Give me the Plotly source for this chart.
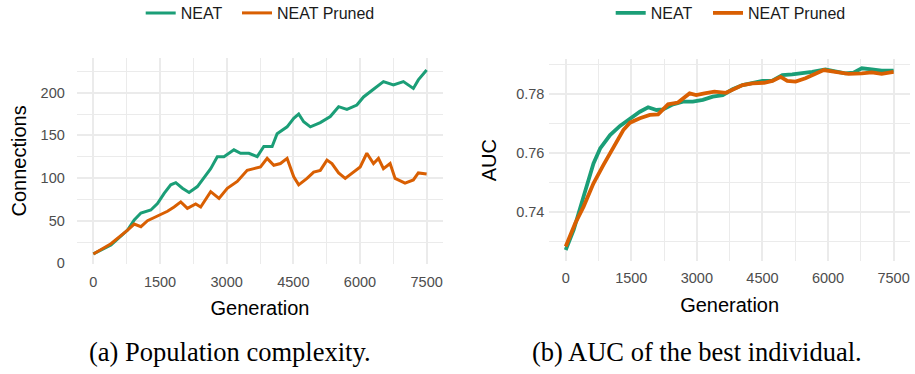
import plotly.graph_objects as go

# ---- Data: (a) Population complexity ----
gen_a_neat = [0, 396, 770, 920, 1070, 1294, 1443, 1593, 1742, 1855, 2004, 2154, 2341, 2490,
              2640, 2789, 2939, 3163, 3313, 3500, 3687, 3836, 4023, 4135, 4360, 4509, 4621,
              4733, 4883, 5107, 5332, 5519, 5706, 5930, 6080, 6304, 6528, 6753, 6977, 7201,
              7313, 7500]
conn_neat = [11, 21.5, 39, 51, 59, 62.5, 70, 82, 92, 94.5, 88, 83, 90, 100,
             111, 125, 125, 133, 129, 129, 125, 137, 137, 152, 160, 170, 175,
             166, 160, 165, 172, 183.6, 180.5, 185.5, 195, 204, 213, 209, 213, 205,
             215, 226.6]

gen_a_pruned = [0, 396, 770, 920, 1070, 1219, 1443, 1668, 1817, 1967, 2116, 2303, 2415, 2640,
                2827, 3014, 3238, 3462, 3612, 3761, 3911, 4060, 4210, 4360, 4509, 4621, 4808,
                4958, 5107, 5257, 5369, 5519, 5668, 5855, 6005, 6154, 6304, 6416, 6528, 6678,
                6790, 7014, 7201, 7313, 7500]
conn_pruned = [11, 23, 39, 46, 43, 50, 55.5, 61, 66, 72, 64.5, 69.5, 66, 84,
               76, 88, 96, 109, 111, 113, 123, 115, 117, 123, 101.5, 92, 99.6,
               107, 109, 121, 117, 106, 99.6, 107, 113, 129, 117, 123, 111, 117,
               99.6, 94, 97.7, 106, 104.7]

# ---- Data: (b) AUC of the best individual ----
gen_b_neat = [0, 182, 409, 636, 788, 1015, 1242, 1470, 1697, 1886, 2076, 2227, 2455, 2682,
              2909, 3136, 3364, 3591, 3818, 4046, 4273, 4500, 4727, 4955, 5182, 5409, 5636,
              5939, 6167, 6394, 6583, 6773, 7000, 7227, 7500]
auc_neat = [0.7271, 0.7339, 0.7452, 0.7564, 0.7615, 0.7660, 0.7691, 0.7717, 0.7739, 0.7754,
            0.7745, 0.7747, 0.7764, 0.7773, 0.7773, 0.7779, 0.7790, 0.7795, 0.7815, 0.7829,
            0.7835, 0.7843, 0.7844, 0.7863, 0.7865, 0.7869, 0.7874, 0.7882, 0.7874, 0.7869,
            0.7871, 0.7886, 0.7882, 0.7878, 0.7878]

gen_b_pruned = [0, 220, 409, 636, 864, 1091, 1318, 1470, 1697, 1924, 2114, 2341, 2568, 2833,
                2985, 3174, 3402, 3667, 3818, 4046, 4273, 4538, 4727, 4917, 5068, 5258, 5485,
                5712, 5902, 6167, 6470, 6773, 7000, 7227, 7500]
auc_pruned = [0.7283, 0.7362, 0.7418, 0.7497, 0.7559, 0.7621, 0.7677, 0.7702, 0.7717, 0.7728,
              0.7730, 0.7764, 0.7770, 0.7801, 0.7795, 0.7801, 0.7807, 0.7803, 0.7812, 0.7829,
              0.7835, 0.7837, 0.7843, 0.7857, 0.7843, 0.7841, 0.7852, 0.7869, 0.7880, 0.7874,
              0.7867, 0.7869, 0.7872, 0.7867, 0.7874]

series_names = ["NEAT", "NEAT Pruned"]
x_ticks = [0, 1500, 3000, 4500, 6000, 7500]
y_ticks_a = [0, 50, 100, 150, 200]
y_ticks_b = [0.74, 0.76, 0.78]
y_tick_labels_b = ["0.74", "0.76", "0.78"]
captions = ["(a) Population complexity.", "(b) AUC of the best individual."]

GREEN = "#1B9E77"
ORANGE = "#D95F02"
W, H = 915, 374
FONT = "Liberation Sans"


def px(xp):
    return xp / W


def py(yp):
    return (H - yp) / H


def xdom(l, r):
    return [px(l), px(r)]


def ydom(top, bottom):
    return [py(bottom), py(top)]


fig = go.Figure()
fig.add_trace(go.Scatter(x=gen_a_neat, y=conn_neat, mode="lines", name=series_names[0],
                         line=dict(color=GREEN, width=3), xaxis="x", yaxis="y", legend="legend"))
fig.add_trace(go.Scatter(x=gen_a_pruned, y=conn_pruned, mode="lines", name=series_names[1],
                         line=dict(color=ORANGE, width=3), xaxis="x", yaxis="y", legend="legend3"))
fig.add_trace(go.Scatter(x=gen_b_neat, y=auc_neat, mode="lines", name=series_names[0],
                         line=dict(color=GREEN, width=3.8), xaxis="x2", yaxis="y2", legend="legend2"))
fig.add_trace(go.Scatter(x=gen_b_pruned, y=auc_pruned, mode="lines", name=series_names[1],
                         line=dict(color=ORANGE, width=3.8), xaxis="x2", yaxis="y2", legend="legend4"))

grid_major = "#EBEBEB"
common_x = dict(tickvals=x_ticks, range=[-375, 7875], showgrid=True, gridcolor=grid_major,
                gridwidth=1.5, zeroline=False, showline=False, ticks="outside", ticklen=4,
                tickcolor="rgba(0,0,0,0)",
                tickfont=dict(family=FONT, size=14.5, color="#4D4D4D"),
                minor=dict(dtick=750, tick0=0, showgrid=True, gridcolor=grid_major, gridwidth=0.8),
                title=dict(text="Generation", font=dict(family=FONT, size=20, color="#000000"),
                           standoff=12))

legend_common = dict(orientation="h", xanchor="left", y=py(-4), yanchor="top",
                     font=dict(family=FONT, size=16, color="#1A1A1A"), bgcolor="rgba(0,0,0,0)",
                     itemclick=False, itemdoubleclick=False)

fig.update_layout(
    width=W, height=H,
    margin=dict(l=0, r=0, t=0, b=0, autoexpand=False),
    paper_bgcolor="white", plot_bgcolor="white",
    showlegend=True,
    hovermode=False,
    xaxis=dict(domain=xdom(76.7, 443.3), anchor="y", **common_x),
    yaxis=dict(domain=ydom(57.7, 264.2), anchor="x", range=[-1, 241], tickvals=y_ticks_a,
               showgrid=True, gridcolor=grid_major, gridwidth=1.5, zeroline=False,
               ticks="outside", ticklen=8, tickcolor="rgba(0,0,0,0)",
               tickfont=dict(family=FONT, size=14.5, color="#4D4D4D"),
               minor=dict(dtick=50, tick0=25, showgrid=True, gridcolor=grid_major, gridwidth=0.8),
               title=dict(text="Connections", font=dict(family=FONT, size=20, color="#000000"),
                          standoff=8)),
    xaxis2=dict(domain=xdom(549.3, 910), anchor="y2", **common_x),
    yaxis2=dict(domain=ydom(59.4, 261), anchor="x2", range=[0.7234, 0.7916], tickvals=y_ticks_b,
                ticktext=y_tick_labels_b,
                showgrid=True, gridcolor=grid_major, gridwidth=1.5, zeroline=False,
                ticks="outside", ticklen=1, tickcolor="rgba(0,0,0,0)",
                tickfont=dict(family=FONT, size=14.5, color="#4D4D4D"),
                minor=dict(dtick=0.02, tick0=0.73, showgrid=True, gridcolor=grid_major, gridwidth=0.8),
                title=dict(text="AUC", font=dict(family=FONT, size=20, color="#000000"),
                           standoff=14)),
    legend=dict(x=px(140.7), **legend_common),
    legend3=dict(x=px(237), **legend_common),
    legend2=dict(x=px(610.7), **legend_common),
    legend4=dict(x=px(708), **legend_common),
    annotations=[
        dict(text=captions[0], x=px(230), y=py(352), xref="paper", yref="paper",
             xanchor="center", yanchor="middle",
             showarrow=False, font=dict(family="Liberation Serif", size=26.5, color="#000000")),
        dict(text=captions[1], x=px(697), y=py(352), xref="paper", yref="paper",
             xanchor="center", yanchor="middle",
             showarrow=False, font=dict(family="Liberation Serif", size=26.5, color="#000000")),
    ],
)

fig.write_html("out.html", config={"displayModeBar": False},
               post_script="document.body.style.margin='0px';")
